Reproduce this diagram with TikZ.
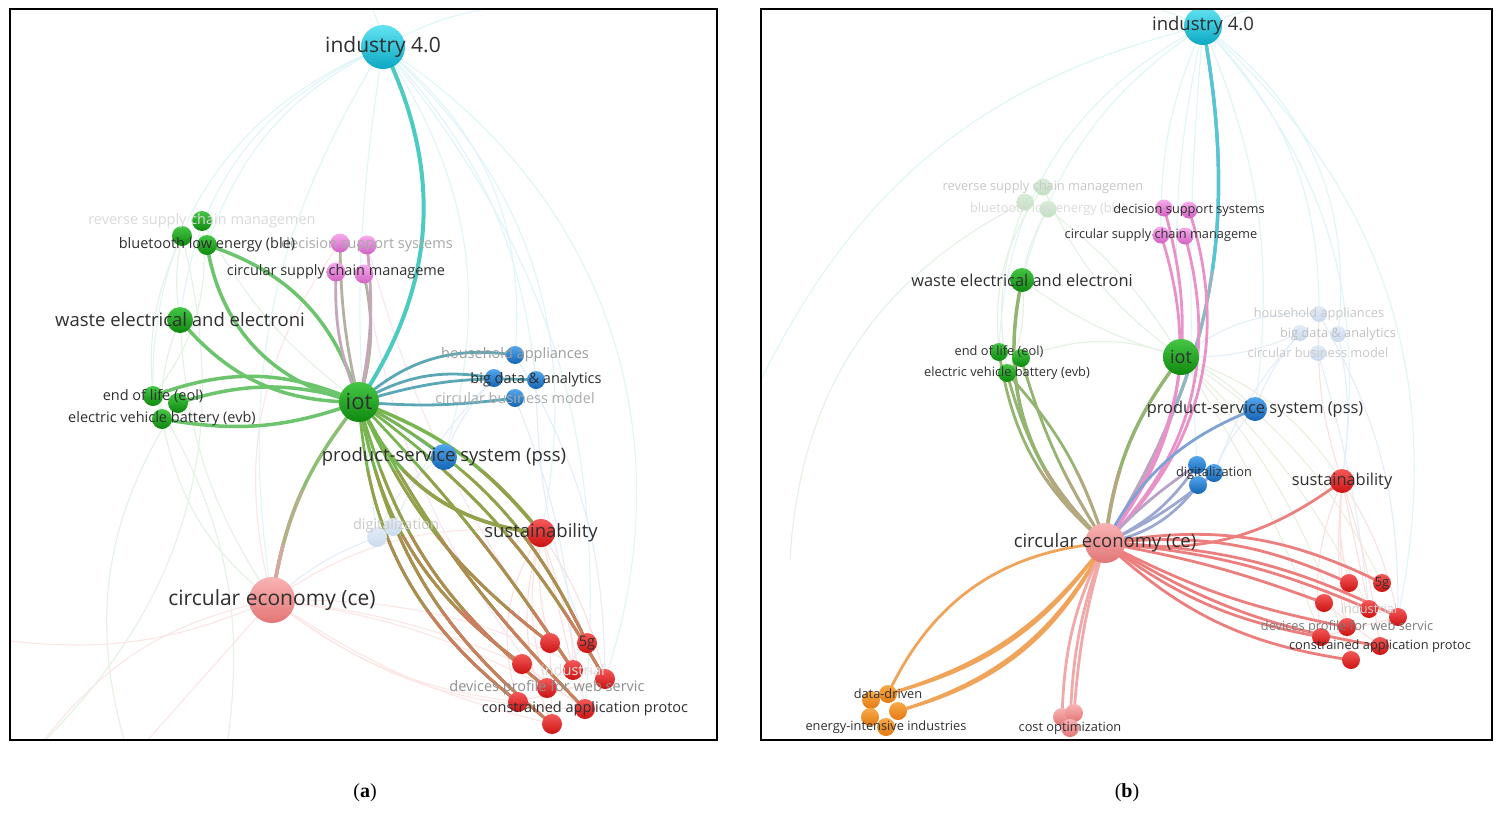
\documentclass[tikz,border=0pt]{standalone}
\usepackage{fontspec}
\setmainfont{Liberation Serif}
\newfontfamily\osans{Open Sans}
\definecolor{txt}{HTML}{2F2F2F}
\definecolor{gA}{HTML}{DADADA}\definecolor{gB}{HTML}{A8A8A8}\definecolor{gC}{HTML}{9C9C9C}
\definecolor{gD}{HTML}{AAAAAA}\definecolor{gE}{HTML}{CACACA}\definecolor{gF}{HTML}{DDDDDD}
\definecolor{gG}{HTML}{8E8E8E}\definecolor{gH}{HTML}{C8C8C8}\definecolor{gI}{HTML}{C0C0C0}
\definecolor{gJ}{HTML}{D0D0D0}\definecolor{gK}{HTML}{7A7A7A}
\definecolor{cyT}{HTML}{62E3F2}\definecolor{cyB}{HTML}{0BA8C3}
\definecolor{grT}{HTML}{45C645}\definecolor{grB}{HTML}{0E890E}
\definecolor{pkT}{HTML}{F9B3B3}\definecolor{pkB}{HTML}{E27676}
\definecolor{rdT}{HTML}{F45858}\definecolor{rdB}{HTML}{CC1212}
\definecolor{blT}{HTML}{52A6EC}\definecolor{blB}{HTML}{1465B4}
\definecolor{mgT}{HTML}{F7AAEC}\definecolor{mgB}{HTML}{D062C4}
\definecolor{orT}{HTML}{F9AA4A}\definecolor{orB}{HTML}{E27A12}
\definecolor{fgT}{HTML}{D8EDD8}\definecolor{fgB}{HTML}{C2E0C2}
\definecolor{fbT}{HTML}{E2ECF7}\definecolor{fbB}{HTML}{C9DAEE}
\definecolor{eTeal}{HTML}{4CCBC2}
\definecolor{eGreen}{HTML}{6CC46C}
\definecolor{ePkGray}{HTML}{C6A6BA}
\definecolor{eGray}{HTML}{B4B0A2}
\definecolor{eTealBlue}{HTML}{5AA8B6}
\definecolor{eR1}{HTML}{78B450}
\definecolor{eR2}{HTML}{96A04C}
\definecolor{eR3}{HTML}{AE8C52}
\definecolor{eR4}{HTML}{CC7E60}
\definecolor{eGP1}{HTML}{8CBE74}
\definecolor{eGP2}{HTML}{B4B08C}
\definecolor{eGP3}{HTML}{D4A8A0}
\definecolor{eRed}{HTML}{EC7E7E}
\definecolor{ePink}{HTML}{E992CA}
\definecolor{eBlue}{HTML}{7EA2D6}
\definecolor{eBlGray}{HTML}{9CA8D2}
\definecolor{ePurp}{HTML}{B8A2C8}
\definecolor{eOrange}{HTML}{F0A45A}
\definecolor{eCost}{HTML}{F0A8A8}
\definecolor{eCy1}{HTML}{52C8D6}
\definecolor{eCy2}{HTML}{90B8C4}
\definecolor{eCy3}{HTML}{B8A8BC}
\definecolor{eGrTan}{HTML}{94B472}
\definecolor{eTan2}{HTML}{B4A880}
\definecolor{fCyan}{HTML}{E0F5F8}
\definecolor{fGreen}{HTML}{E3F2E3}
\definecolor{fPink}{HTML}{FCE6E6}
\definecolor{fBlue}{HTML}{E4EEF9}
\definecolor{fRed}{HTML}{FBE0E0}
\definecolor{fOlive}{HTML}{EBEFDD}
\definecolor{fMag}{HTML}{F8E6F4}
\tikzset{
 ball/.style={circle,inner sep=0pt,minimum size=#1,draw=none},
 bcy/.style={top color=cyT,bottom color=cyB},
 bgr/.style={top color=grT,bottom color=grB},
 bpk/.style={top color=pkT,bottom color=pkB},
 brd/.style={top color=rdT,bottom color=rdB},
 bbl/.style={top color=blT,bottom color=blB},
 bmg/.style={top color=mgT,bottom color=mgB},
 bor/.style={top color=orT,bottom color=orB},
 bfg/.style={top color=fgT,bottom color=fgB},
 bfb/.style={top color=fbT,bottom color=fbB},
 ed/.style={draw=#1,line width=3.5pt},
 es/.style={draw=#1,line width=2.8pt},
 ef/.style={draw=#1,line width=1.1pt},
 lab/.style={inner sep=0pt,text=#1},
 lab/.default=txt,
 fAL/.style={font=\osans\fontsize{21}{21}\selectfont},
 fAM/.style={font=\osans\fontsize{18.5}{18.5}\selectfont},
 fAS/.style={font=\osans\fontsize{14.5}{14.5}\selectfont},
 fBL/.style={font=\osans\fontsize{18.5}{18.5}\selectfont},
 fBM/.style={font=\osans\fontsize{16.4}{16.4}\selectfont},
 fBS/.style={font=\osans\fontsize{12.8}{12.8}\selectfont},
 frame/.style={draw=black,line width=1.8pt},
 capt/.style={inner sep=0pt,font=\fontsize{20}{20}\selectfont}
}
% edges from iot to the red cluster, drawn in one colour
\newcommand\iotRedEdges[1]{%
\draw[ed=#1] (iotA) to[bend right=30] (sustA);
\draw[ed=#1] (iotA) to[bend left=15] (sustA);
\draw[es=#1] (iotA) to[bend left=18] (g5A);
\draw[es=#1] (iotA) to[bend left=12] (rA4);
\draw[es=#1] (iotA) to[bend left=5] (rA3);
\draw[es=#1] (iotA) to[bend right=8] (rA8);
\draw[es=#1] (iotA) to[bend right=14] (rA1);
\draw[es=#1] (iotA) to[bend right=18] (rA6);
\draw[es=#1] (iotA) to[bend right=22] (rA2);
\draw[es=#1] (iotA) to[bend right=24] (rA7);
\draw[es=#1] (iotA) to[bend right=20] (rA9);}
\begin{document}
\begin{tikzpicture}[x=1pt,y=1pt,line cap=round]
\fill[white] (0,0) rectangle (1504,-814);
\useasboundingbox (0,0) rectangle (1504,-814);
% ---------------- panel a coordinates
\coordinate (indA) at (383,-47);
\coordinate (iotA) at (359,-402);
\coordinate (ceA) at (272,-600);
\coordinate (sustA) at (541,-533);
\coordinate (pssA) at (444,-457);
\coordinate (wasteA) at (180,-320);
\coordinate (ble1A) at (182,-236);
\coordinate (ble2A) at (202,-221);
\coordinate (ble3A) at (207,-245);
\coordinate (dss1A) at (340,-243);
\coordinate (dss2A) at (367,-245);
\coordinate (csc1A) at (336,-272);
\coordinate (csc2A) at (364,-274);
\coordinate (hhA) at (515,-355);
\coordinate (bd1A) at (494,-378);
\coordinate (bd2A) at (536,-380);
\coordinate (cbmA) at (515,-398);
\coordinate (eol1A) at (153,-396);
\coordinate (eol2A) at (178,-403);
\coordinate (evbA) at (162,-419);
\coordinate (dig1A) at (377,-537);
\coordinate (dig2A) at (393,-527);
\coordinate (digA) at (396,-526);
\coordinate (rA1) at (550,-643);
\coordinate (g5A) at (587,-643);
\coordinate (rA2) at (522,-664);
\coordinate (rA3) at (573,-670);
\coordinate (rA4) at (605,-679);
\coordinate (rA6) at (547,-688);
\coordinate (rA7) at (518,-702);
\coordinate (rA8) at (585,-709);
\coordinate (rA9) at (552,-724);
\coordinate (oA1) at (368,0);
\coordinate (oA2) at (520,-5);
\coordinate (oA3) at (40,-745);
\coordinate (oA4) at (130,-760);
\coordinate (oA6) at (0,-640);
\coordinate (oA7) at (225,-760);
\begin{scope}
\clip (10,-9) rectangle (717,-740);
% faint edges
\foreach \a/\b/\t in {indA/ceA/-20,indA/pssA/25,indA/sustA/30,indA/rA4/38,indA/wasteA/-30,indA/ble3A/-22,indA/bd2A/18,indA/dig1A/-8,indA/oA1/-10,indA/oA2/12,indA/eol1A/-35,indA/hhA/28,indA/rA8/22}
  \draw[ef=fCyan] (\a) to[bend left=\t] (\b);
\foreach \a/\b/\t in {wasteA/ble1A/10,eol1A/ble1A/15,evbA/wasteA/12,evbA/ceA/-20,ble2A/eol1A/22,ble1A/oA3/30,wasteA/ceA/-15,eol2A/oA4/-25,ble2A/iotA/-12,eol1A/oA7/20}
  \draw[ef=fGreen] (\a) to[bend left=\t] (\b);
\foreach \a/\b/\t in {ceA/rA7/-15,ceA/rA9/-10,ceA/rA6/10,ceA/sustA/20,ceA/oA3/-20,ceA/oA6/15,ceA/dss1A/25,ceA/oA4/0,ceA/rA2/8,ceA/rA8/-18,ceA/rA4/14}
  \draw[ef=fPink] (\a) to[bend left=\t] (\b);
\foreach \a/\b/\t in {pssA/dig1A/-20,bd1A/dig2A/-10,cbmA/rA3/10,hhA/rA4/15,pssA/bd1A/10,bd2A/g5A/-10,ceA/dig1A/10}
  \draw[ef=fBlue] (\a) to[bend left=\t] (\b);
\foreach \a/\b/\t in {sustA/rA1/-10,sustA/rA4/10,sustA/rA3/0,sustA/rA6/-15,sustA/rA9/-20,sustA/rA8/5,rA2/rA8/0,rA7/rA4/0,rA1/rA9/0,rA6/g5A/0,sustA/rA7/-25}
  \draw[ef=fRed] (\a) to[bend left=\t] (\b);
\draw[ef=fMag] (dss2A) to[bend right=10] (rA3);
\draw[ef=fMag] (csc2A) to[bend right=14] (rA6);
% strong edges from iot
\draw[ed=eTeal,line width=4pt] (iotA) to[bend right=30] (indA);
\draw[ed=eGreen] (ble3A) to[bend right=35] (iotA);
\draw[ed=eGreen] (ble3A) to[bend left=28] (iotA);
\draw[ed=eGreen] (wasteA) to[bend right=25] (iotA);
\draw[ed=eGreen] (eol1A) to[bend left=22] (iotA);
\draw[ed=eGreen] (eol2A) to[bend left=17] (iotA);
\draw[ed=eGreen] (evbA) to[bend right=15] (iotA);
\draw[es=ePkGray] (csc1A) to[bend right=12] (iotA);
\draw[es=eGray] (dss1A) to[bend right=6] (iotA);
\draw[es=eGray] (csc2A) to[bend left=14] (iotA);
\draw[es=ePkGray] (dss2A) to[bend left=9] (iotA);
\draw[es=eTealBlue] (iotA) to[bend left=25] (hhA);
\draw[es=eTealBlue] (iotA) to[bend left=20] (bd1A);
\draw[es=eTealBlue] (iotA) to[bend left=10] (bd2A);
\draw[es=eTealBlue] (iotA) to[bend right=6] (cbmA);
\draw[es=eTealBlue] (iotA) to[bend left=4] (pssA);
% iot - circular economy, green fading to pink
\draw[ed=eGP1] (iotA) to[bend right=15] (ceA);
\begin{scope}\clip (10,-490) rectangle (717,-740);
\draw[ed=eGP2] (iotA) to[bend right=15] (ceA);\end{scope}
\begin{scope}\clip (10,-545) rectangle (717,-740);
\draw[ed=eGP3] (iotA) to[bend right=15] (ceA);\end{scope}
% iot - red cluster, green fading to red
\iotRedEdges{eR1}
\begin{scope}\clip (10,-470) rectangle (717,-740);\iotRedEdges{eR2}\end{scope}
\begin{scope}\clip (10,-535) rectangle (717,-740);\iotRedEdges{eR3}\end{scope}
\begin{scope}\clip (10,-610) rectangle (717,-740);\iotRedEdges{eR4}\end{scope}
% nodes
\foreach \n/\s/\c in {indA/44/bcy,ceA/46/bpk,sustA/28/brd,pssA/26/bbl,wasteA/26/bgr,ble1A/20/bgr,ble2A/20/bgr,ble3A/20/bgr,dss1A/19/bmg,dss2A/19/bmg,csc1A/19/bmg,csc2A/19/bmg,hhA/18/bbl,bd1A/18/bbl,bd2A/18/bbl,cbmA/18/bbl,eol1A/20/bgr,eol2A/20/bgr,evbA/20/bgr,dig1A/20/bfb,dig2A/18/bfb,rA1/20/brd,g5A/20/brd,rA2/20/brd,rA3/20/brd,rA4/20/brd,rA6/20/brd,rA7/20/brd,rA8/20/brd,rA9/20/brd,iotA/40/bgr}
  \node[ball=\s,\c] (b\n) at (\n) {};
% labels
\node[lab=gA,fAS] (tRscA) at (ble2A) {reverse supply chain managemen};
\node[lab=gB,fAS] (tDssA) at (dss2A) {decision support systems};
\node[lab,fAS] (tBleA) at (ble3A) {bluetooth low energy (ble)};
\node[lab,fAS] (tCscA) at (csc1A) {circular supply chain manageme};
\node[lab,fAM] (tWasteA) at (wasteA) {waste electrical and electroni};
\node[lab=gC,fAS] (tHhA) at (hhA) {household appliances};
\node[lab=gD,fAS] (tCbmA) at (cbmA) {circular business model};
\node[lab,fAS] (tBdA) at (bd2A) {big data \& analytics};
\node[lab,fAS] (tEolA) at (eol1A) {end of life (eol)};
\node[lab,fAS] (tEvbA) at (evbA) {electric vehicle battery (evb)};
\node[lab,font=\osans\fontsize{22}{22}\selectfont] (tIotA) at (iotA) {iot};
\node[lab,fAM] (tPssA) at (pssA) {product-service system (pss)};
\node[lab=gE,fAS] (tDigA) at (digA) {digitalization};
\node[lab,fAM] (tSustA) at (sustA) {sustainability};
\node[lab,fAL] (tCeA) at (ceA) {circular economy (ce)};
\node[lab,fAL] (tIndA) at (indA) {industry 4.0};
\node[lab=gF,fAS] (tIndusA) at (rA3) {industrial};
\node[lab,fAS] (t5gA) at (g5A) {5g};
\node[lab=gG,fAS] (tDevA) at (rA6) {devices profile for web servic};
\node[lab,fAS] (tCoapA) at (rA8) {constrained application protoc};
\end{scope}
\draw[frame] (10,-9) rectangle (717,-740);
% ---------------- panel b coordinates
\coordinate (indB) at (1203,-26);
\coordinate (iotB) at (1181,-357);
\coordinate (ceB) at (1105,-543);
\coordinate (sustB) at (1342,-481);
\coordinate (pssB) at (1255,-409);
\coordinate (wasteB) at (1022,-280);
\coordinate (rscB) at (1043,-187);
\coordinate (ble1B) at (1025,-202);
\coordinate (ble2B) at (1048,-209);
\coordinate (dss1B) at (1164,-208);
\coordinate (dss2B) at (1189,-210);
\coordinate (csc1B) at (1161,-235);
\coordinate (csc2B) at (1185,-236);
\coordinate (hhB) at (1319,-314);
\coordinate (bd1B) at (1300,-333);
\coordinate (bd2B) at (1338,-334);
\coordinate (cbmB) at (1318,-353);
\coordinate (eol1B) at (999,-352);
\coordinate (eol2B) at (1021,-358);
\coordinate (evbB) at (1007,-373);
\coordinate (dg1B) at (1197,-465);
\coordinate (dg2B) at (1214,-473);
\coordinate (dg3B) at (1198,-485);
\coordinate (rB1) at (1349,-583);
\coordinate (g5B) at (1382,-583);
\coordinate (rB2) at (1324,-603);
\coordinate (rB3) at (1369,-609);
\coordinate (rB4) at (1398,-617);
\coordinate (rB6) at (1347,-627);
\coordinate (rB7) at (1321,-637);
\coordinate (rB8) at (1380,-646);
\coordinate (rB9) at (1351,-660);
\coordinate (co1B) at (1062,-717);
\coordinate (co2B) at (1074,-713);
\coordinate (co3B) at (1070,-728);
\coordinate (dd1B) at (888,-694);
\coordinate (dd2B) at (871,-700);
\coordinate (dd3B) at (898,-711);
\coordinate (dd4B) at (870,-717);
\coordinate (dd5B) at (886,-727);
\coordinate (oB1) at (1320,0);
\coordinate (oB2) at (761,-380);
\coordinate (oB3) at (790,-560);
\coordinate (oB4) at (1100,0);
\begin{scope}
\clip (761,-9) rectangle (1492,-740);
\foreach \a/\b/\t in {indB/wasteB/-20,indB/csc1B/-12,indB/pssB/15,indB/sustB/25,indB/bd2B/30,indB/eol1B/-30,indB/dg1B/-4,indB/oB1/10,indB/oB2/-25,indB/hhB/22,indB/rB4/30,indB/oB4/-10,indB/iotB/-8}
  \draw[ef=fCyan] (\a) to[bend left=\t] (\b);
\foreach \a/\b/\t in {rscB/eol1B/-20,ble1B/evbB/-15,wasteB/ble2B/10,iotB/ble2B/-10,iotB/wasteB/10,iotB/eol2B/-20,iotB/pssB/10,ble1B/oB3/-30,rscB/iotB/-15,wasteB/evbB/15}
  \draw[ef=fGreen] (\a) to[bend left=\t] (\b);
\foreach \a/\b/\t in {iotB/g5B/15,iotB/rB3/10,iotB/rB9/12,iotB/rB7/6,iotB/sustB/18}
  \draw[ef=fOlive] (\a) to[bend left=\t] (\b);
\foreach \a/\b/\t in {bd1B/dg2B/-10,hhB/rB4/15,cbmB/rB3/5,bd2B/sustB/10,pssB/bd1B/10,hhB/iotB/-20,pssB/dg2B/-10,bd1B/iotB/12}
  \draw[ef=fBlue] (\a) to[bend left=\t] (\b);
\foreach \a/\b/\t in {sustB/rB1/-10,sustB/rB3/0,sustB/rB4/10,sustB/rB7/-15,sustB/rB6/-5,sustB/rB8/5,rB2/rB8/0,rB7/rB4/0,sustB/hhB/10,sustB/rB9/-8,rB1/rB9/0}
  \draw[ef=fRed] (\a) to[bend left=\t] (\b);
% strong edges from circular economy
\draw[es=eCy3,line width=3.2pt] (ceB) to[bend right=21] (indB);
\begin{scope}\clip (761,-9) rectangle (1492,-440);
\draw[es=eCy2,line width=3.2pt] (ceB) to[bend right=21] (indB);\end{scope}
\begin{scope}\clip (761,-9) rectangle (1492,-270);
\draw[es=eCy1,line width=3.2pt] (ceB) to[bend right=21] (indB);\end{scope}
\draw[ed=eGrTan] (ceB) to[bend left=15] (iotB);
\draw[es=ePink] (ceB) to[bend right=28] (csc1B);
\draw[es=ePink] (ceB) to[bend right=26] (dss1B);
\draw[es=ePink] (ceB) to[bend right=30] (csc2B);
\draw[es=ePink] (ceB) to[bend right=32] (dss2B);
\draw[ed=eGrTan] (wasteB) to[bend right=30] (ceB);
\draw[es=eGrTan] (eol1B) to[bend right=20] (ceB);
\draw[es=eGrTan] (eol2B) to[bend right=8] (ceB);
\draw[es=eGrTan] (evbB) to[bend right=15] (ceB);
\draw[es=eGrTan] (evbB) to[bend left=12] (ceB);
\begin{scope}\clip (761,-470) rectangle (1492,-740);
\draw[ed=eTan2] (wasteB) to[bend right=30] (ceB);
\draw[es=eTan2] (eol1B) to[bend right=20] (ceB);
\draw[es=eTan2] (eol2B) to[bend right=8] (ceB);
\draw[es=eTan2] (evbB) to[bend right=15] (ceB);
\draw[es=eTan2] (evbB) to[bend left=12] (ceB);
\draw[ed=eTan2] (ceB) to[bend left=15] (iotB);
\end{scope}
\draw[es=eBlue] (ceB) to[bend left=20] (pssB);
\draw[es=eBlGray] (ceB) to[bend right=15] (dg1B);
\draw[es=eBlGray] (ceB) to[bend right=8] (dg2B);
\draw[es=eBlGray] (ceB) to[bend right=20] (dg3B);
\draw[es=ePurp] (ceB) to[bend left=6] (dg1B);
\draw[es=eRed] (ceB) to[bend right=22] (sustB);
\foreach \b/\t in {g5B/18,rB1/15,rB4/12,rB3/9,rB2/5,rB6/-8,rB8/-11,rB7/-13,rB9/-17}
  \draw[es=eRed] (ceB) to[bend left=\t] (\b);
\draw[es=eOrange] (ceB) to[bend right=30] (dd1B);
\draw[es=eOrange] (ceB) to[bend left=18] (dd1B);
\draw[es=eOrange] (ceB) to[bend left=20] (dd1B);
\draw[es=eOrange] (ceB) to[bend left=22] (dd3B);
\draw[es=eOrange] (ceB) to[bend left=24] (dd3B);
\draw[es=eCost] (ceB) to[bend right=12] (co1B);
\draw[es=eCost] (ceB) to[bend right=9] (co3B);
\draw[es=eCost] (ceB) to[bend right=6] (co2B);
% nodes
\foreach \n/\s/\c in {indB/38/bcy,sustB/24/brd,pssB/24/bbl,wasteB/24/bgr,rscB/17/bfg,ble1B/17/bfg,ble2B/17/bfg,dss1B/17/bmg,dss2B/17/bmg,csc1B/17/bmg,csc2B/17/bmg,hhB/16/bfb,bd1B/16/bfb,bd2B/16/bfb,cbmB/16/bfb,eol1B/18/bgr,eol2B/18/bgr,evbB/18/bgr,dg1B/18/bbl,dg2B/18/bbl,dg3B/18/bbl,rB1/18/brd,g5B/18/brd,rB2/18/brd,rB3/18/brd,rB4/18/brd,rB6/18/brd,rB7/18/brd,rB8/18/brd,rB9/18/brd,co1B/18/bpk,co2B/18/bpk,co3B/18/bpk,dd1B/18/bor,dd2B/18/bor,dd3B/18/bor,dd4B/18/bor,dd5B/18/bor,iotB/36/bgr,ceB/40/bpk}
  \node[ball=\s,\c] (b\n) at (\n) {};
% labels
\node[lab=gH,fBS] (tRscB) at (rscB) {reverse supply chain managemen};
\node[lab=gA,fBS] (tBleB) at (ble2B) {bluetooth low energy (ble)};
\node[lab,fBS] (tDssB) at (dss2B) {decision support systems};
\node[lab,fBS] (tCscB) at (csc1B) {circular supply chain manageme};
\node[lab,fBM] (tWasteB) at (wasteB) {waste electrical and electroni};
\node[lab,fBS] (tEolB) at (eol1B) {end of life (eol)};
\node[lab,fBS] (tEvbB) at (evbB) {electric vehicle battery (evb)};
\node[lab,font=\osans\fontsize{18}{18}\selectfont] (tIotB) at (iotB) {iot};
\node[lab=gH,fBS] (tHhB) at (hhB) {household appliances};
\node[lab=gI,fBS] (tBdB) at (bd2B) {big data \& analytics};
\node[lab=gH,fBS] (tCbmB) at (cbmB) {circular business model};
\node[lab,fBM] (tPssB) at (pssB) {product-service system (pss)};
\node[lab,fBS] (tDigB) at (dg2B) {digitalization};
\node[lab,fBM] (tSustB) at (sustB) {sustainability};
\node[lab,fBL] (tCeB) at (ceB) {circular economy (ce)};
\node[lab,fBL] (tIndB) at (indB) {industry 4.0};
\node[lab=gJ,fBS] (tIndusB) at (rB3) {industrial};
\node[lab,fBS] (t5gB) at (g5B) {5g};
\node[lab=gK,fBS] (tDevB) at (rB6) {devices profile for web servic};
\node[lab,fBS] (tCoapB) at (rB8) {constrained application protoc};
\node[lab,fBS] (tDdB) at (dd1B) {data-driven};
\node[lab,fBS] (tEiB) at (dd5B) {energy-intensive industries};
\node[lab,fBS] (tCoB) at (co3B) {cost optimization};
\end{scope}
\draw[frame] (761,-9) rectangle (1492,-740);
% captions
\node[capt] (capA) at (365,-793) {(\textbf{a})};
\node[capt] (capB) at (1127,-793) {(\textbf{b})};
\end{tikzpicture}
\end{document}
